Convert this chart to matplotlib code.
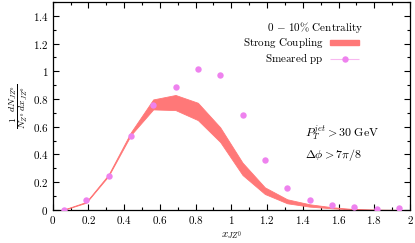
import matplotlib
matplotlib.use("Agg")
import matplotlib.pyplot as plt
import numpy as np
from matplotlib.patches import Patch
from matplotlib.legend_handler import HandlerErrorbar
from matplotlib.ticker import MultipleLocator

plt.rcParams['mathtext.fontset'] = 'cm'
plt.rcParams['font.family'] = 'serif'
plt.rcParams['font.serif'] = ['DejaVu Serif']

# ---- data ----
x_bins = [0.0625, 0.1875, 0.3125, 0.4375, 0.5625, 0.6875, 0.8125, 0.9375,
          1.0625, 1.1875, 1.3125, 1.4375, 1.5625, 1.6875, 1.8125, 1.9375]
strong_upper = [0.003, 0.058, 0.255, 0.56, 0.797, 0.829, 0.773, 0.596,
                0.341, 0.163, 0.077, 0.041, 0.020, 0.006, 0.002, 0.001]
strong_lower = [0.001, 0.052, 0.245, 0.54, 0.725, 0.720, 0.648, 0.490,
                0.252, 0.115, 0.048, 0.024, 0.012, 0.003, 0.001, 0.000]
pp_values = [0.003, 0.074, 0.245, 0.535, 0.754, 0.886, 1.016, 0.970,
             0.684, 0.360, 0.161, 0.072, 0.036, 0.019, 0.010, 0.012]
x_tick_labels = ['0', '0.2', '0.4', '0.6', '0.8', '1', '1.2', '1.4', '1.6', '1.8', '2']
y_tick_labels = ['0', '0.2', '0.4', '0.6', '0.8', '1', '1.2', '1.4']

band_color = '#ff7878'
pt_color = '#ee82ee'
bar_color = '#f8b8f0'
fs = 8

fig = plt.figure(figsize=(4.15, 2.43), dpi=100)
ax = fig.add_axes([0.127, 0.136, 0.861, 0.856])

ax.fill_between(x_bins, strong_lower, strong_upper, facecolor=band_color,
                edgecolor=band_color, linewidth=0.6, zorder=2)
ax.plot(x_bins, pp_values, linestyle='none', marker='o', markersize=4.6,
        color=pt_color, markeredgewidth=0, zorder=3)

# legend handles
band_handle = Patch(facecolor=band_color, edgecolor=band_color)
pp_handle = ax.errorbar([], [], xerr=[], fmt='o', color=pt_color, ecolor=bar_color,
                        markersize=4.6, markeredgewidth=0, capsize=1.5, elinewidth=0.8)
leg = ax.legend([band_handle, pp_handle],
                [r'$\mathrm{Strong\ Coupling}$', r'$\mathrm{Smeared\ pp}$'],
                markerfirst=False, frameon=False, loc='upper right',
                bbox_to_anchor=(0.873, 0.862), fontsize=fs, handlelength=2.6,
                handleheight=0.35, labelspacing=0.1, borderpad=0, handletextpad=0.6,
                handler_map={type(pp_handle): HandlerErrorbar(xerr_size=1.3, numpoints=1)})

ax.text(1.468, 1.313, r'$0\,-\,10\%\ \mathrm{Centrality}$', ha='center', va='center', fontsize=fs)
ax.text(1.41, 0.555, r'$P_T^{jet}>30\ \mathrm{GeV}$', ha='left', va='center', fontsize=8.6)
ax.text(1.41, 0.396, r'$\Delta\phi>7\pi/8$', ha='left', va='center', fontsize=8.6)

ax.set_xlim(0, 2)
ax.set_ylim(0, 1.5)
ax.xaxis.set_minor_locator(MultipleLocator(0.1))
ax.yaxis.set_minor_locator(MultipleLocator(0.1))
ax.set_yticks([0, 0.2, 0.4, 0.6, 0.8, 1.0, 1.2, 1.4])
ax.set_yticklabels([r'$%s$' % t for t in y_tick_labels])
ax.set_xticks([0, 0.2, 0.4, 0.6, 0.8, 1.0, 1.2, 1.4, 1.6, 1.8, 2.0])
ax.set_xticklabels([r'$%s$' % t for t in x_tick_labels])
ax.tick_params(which='both', direction='in', top=True, right=True, labelsize=fs, width=0.8)
ax.tick_params(which='major', length=4, pad=3)
ax.tick_params(which='minor', length=2)
for s in ax.spines.values():
    s.set_linewidth(0.9)

ax.set_xlabel(r'$x_{JZ^0}$', fontsize=fs, labelpad=3)
ax.set_ylabel(r'$\dfrac{1}{N_{Z^0}}\dfrac{dN_{JZ^0}}{dx_{JZ^0}}$', fontsize=7, labelpad=2)

fig.savefig('out.png', dpi=100)
